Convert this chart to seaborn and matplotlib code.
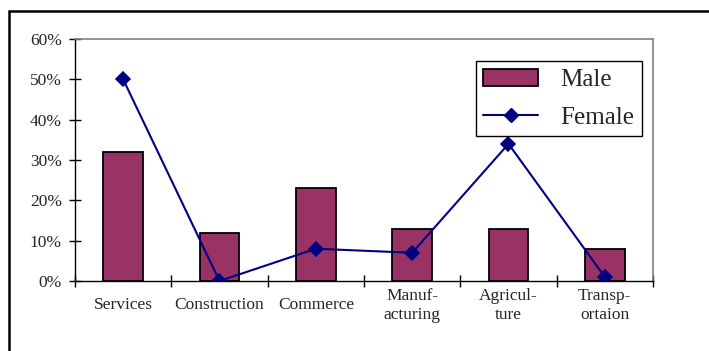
import numpy as np
import matplotlib
matplotlib.use("Agg")
import matplotlib.pyplot as plt
import matplotlib.patches as mpatches
from matplotlib.lines import Line2D
import seaborn as sns

sns.set_style("white")
plt.rcParams["font.family"] = ["Liberation Serif", "DejaVu Serif"]

CATEGORIES = ["Services", "Construction", "Commerce",
              "Manuf-\nacturing", "Agricul-\nture", "Transp-\nortaion"]
MALE = [32, 12, 23, 13, 13, 8]
FEMALE = [50, 0, 8, 7, 34, 1]
Y_TICKS = [0, 10, 20, 30, 40, 50, 60]

BAR_COLOR = "#993366"
LINE_COLOR = "#000080"

fig = plt.figure(figsize=(7.09, 3.51), dpi=100)
ax = fig.add_axes([75 / 709, 70 / 351, 578 / 709, 242 / 351])

sns.barplot(x=CATEGORIES, y=MALE, color=BAR_COLOR, saturation=1,
            width=0.415, edgecolor="black", linewidth=1.3, ax=ax, zorder=2)
sns.pointplot(x=CATEGORIES, y=FEMALE, color=LINE_COLOR, markers="D",
              linestyles="-", markersize=7, linewidth=1.5, ax=ax, zorder=3)

n = len(CATEGORIES)
ax.set_xlim(-0.5, n - 0.5)
ax.set_ylim(0, 60)
ax.set_yticks(Y_TICKS)
ax.set_yticklabels([f"{v}%" for v in Y_TICKS], fontsize=12.5)

# boundaries get tick marks, centres get the labels
ax.set_xticks(np.arange(n + 1) - 0.5)
ax.set_xticklabels([])
ax.set_xticks(np.arange(n), minor=True)
ax.set_xticklabels(CATEGORIES, minor=True, fontsize=12.5, va="center")
ax.tick_params(axis="x", which="minor", bottom=True, length=0, pad=17.5)
ax.tick_params(axis="x", which="major", bottom=True, direction="inout",
               length=8, width=1, color="black")
ax.tick_params(axis="y", left=True, direction="inout", length=8, width=1,
               pad=5.5, color="black")
ax.set_xlabel("")
ax.set_ylabel("")

for side in ["left", "bottom"]:
    ax.spines[side].set_color("black")
    ax.spines[side].set_linewidth(1.0)
for side in ["top", "right"]:
    ax.spines[side].set_visible(True)
    ax.spines[side].set_color("#808080")
    ax.spines[side].set_linewidth(1.2)

male_patch = mpatches.Patch(facecolor=BAR_COLOR, edgecolor="black", linewidth=1.3, label="Male")
female_line = Line2D([], [], color=LINE_COLOR, marker="D", markersize=7, linewidth=1.5, label="Female")
leg = ax.legend(handles=[male_patch, female_line], loc="upper right",
                bbox_to_anchor=(0.981, 0.909), borderaxespad=0, fontsize=18,
                frameon=True, fancybox=False, edgecolor="black", framealpha=1,
                handlelength=2.2, handletextpad=0.9, labelspacing=0.6,
                borderpad=0.3)
leg.get_frame().set_linewidth(1.0)

# outer chart-area frame (cut off at right and bottom)
fig.add_artist(Line2D([9 / 709, 9 / 709], [0, 1 - 11 / 351], color="black", linewidth=1.8,
                      transform=fig.transFigure))
fig.add_artist(Line2D([9 / 709, 1], [1 - 11 / 351, 1 - 11 / 351], color="black", linewidth=1.8,
                      transform=fig.transFigure))

fig.savefig("out.png", dpi=100)
